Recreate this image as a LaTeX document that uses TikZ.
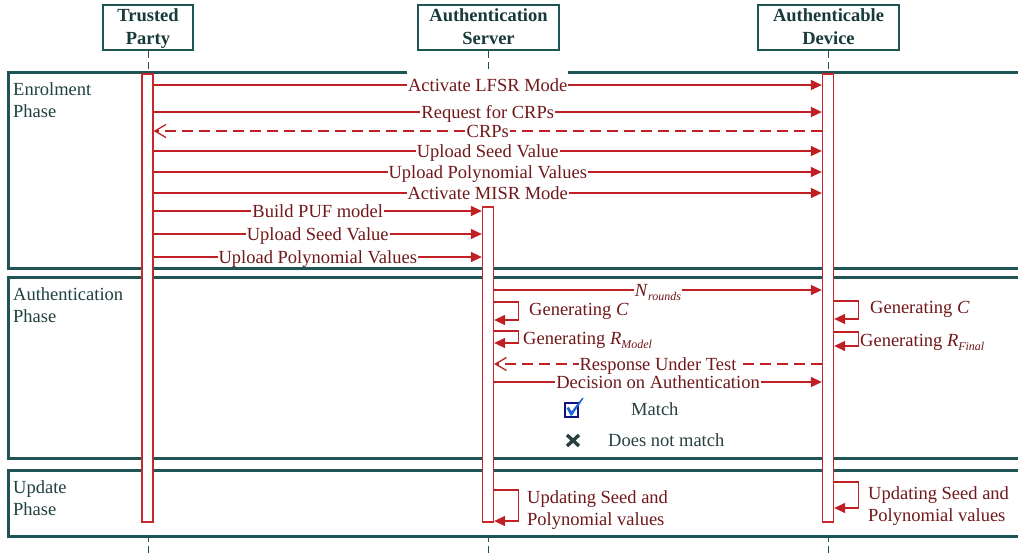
\documentclass[tikz,border=0pt]{standalone}
\usepackage{fontspec}
\setmainfont{Liberation Serif}
\usetikzlibrary{arrows.meta}

\definecolor{frameteal}{RGB}{31,84,84}
\definecolor{hdrtext}{RGB}{25,58,58}
\definecolor{phasetext}{RGB}{30,64,64}
\definecolor{msgred}{RGB}{192,32,36}
\definecolor{lbltext}{RGB}{112,24,26}
\definecolor{barred}{RGB}{200,40,44}
\definecolor{navyline}{RGB}{12,20,130}
\definecolor{tickblue}{RGB}{30,100,210}
\definecolor{slate}{RGB}{40,64,64}

\newcommand\basefont{\fontsize{18.5}{22}\selectfont}
\newcommand\subtext[1]{\raisebox{-4pt}{\fontsize{12}{12}\selectfont\textit{#1}}}

\begin{document}
\begin{tikzpicture}[x=1pt,y=-1pt,
  hdr/.style={draw=frameteal, line width=2.5, fill=white, minimum height=45,
    inner sep=0, align=center, font=\fontsize{18.5}{22.5}\selectfont\bfseries,
    text=hdrtext, text height=37, text depth=3.4},
  life/.style={draw=frameteal, line width=1, dash pattern=on 7 off 4},
  phasebox/.style={draw=frameteal, line width=3, fill=white},
  phaselbl/.style={anchor=base west, align=left, inner sep=0, font=\basefont, text=phasetext},
  bar/.style={draw=barred, fill=white, line width=1.3, minimum width=11, inner sep=0},
  msg/.style={draw=msgred, line width=1.3, -{Triangle[length=11,width=10]}},
  reply/.style={draw=msgred, line width=1.3, dash pattern=on 11 off 6,
    -{Straight Barb[length=11,width=13]}},
  lbl/.style={fill=white, text=lbltext, font=\basefont, inner xsep=1, inner ysep=1.5,
    text height=13, text depth=0},
  note/.style={anchor=base west, inner sep=0, text=lbltext, font=\basefont, align=left},
  legend/.style={anchor=base west, inner sep=0, text=slate, font=\basefont},
]
\useasboundingbox (0,0) rectangle (1018,555);
\clip (0,0) rectangle (1018,555);

% participants
\node[hdr, minimum width=90]  (tp) at (148,27.5)   {Trusted\\Party};
\node[hdr, minimum width=141] (sv) at (488.5,27.5) {Authentication\\Server};
\node[hdr, minimum width=141] (dv) at (828.5,27.5) {Authenticable\\Device};

% lifelines
\draw[life] (tp.south) -- (tp.south |- 0,555);
\draw[life] (sv.south) -- (sv.south |- 0,555);
\draw[life] (dv.south) -- (dv.south |- 0,555);

% phase frames (labels anchored at the baseline of their last line)
\draw[phasebox] (8.5,72)  rectangle (1025,268);
\draw[phasebox] (8.5,277) rectangle (1025,458);
\draw[phasebox] (8.5,470) rectangle (1025,536);
\node[phaselbl] (enrol) at (13,117) {Enrolment\\Phase};
\node[phaselbl] (authp) at (13,322) {Authentication\\Phase};
\node[phaselbl] (updp)  at (13,515) {Update\\Phase};

% activation bars
\node[bar, minimum height=448] (tpbar) at (147.5,298)   {};
\node[bar, minimum height=315] (svbar) at (488,364.5)   {};
\node[bar, minimum height=448] (dvbar) at (828,298)     {};

% enrolment messages
\draw[msg] (tpbar.east |- 0,85) -- node[lbl, text height=21, yshift=4]{Activate LFSR Mode} (dvbar.west |- 0,85);
\draw[msg] (tpbar.east |- 0,112) -- node[lbl]{Request for CRPs} (dvbar.west |- 0,112);
\draw[reply] (dvbar.west |- 0,131) -- node[lbl]{CRPs} (tpbar.east |- 0,131);
\draw[msg] (tpbar.east |- 0,151) -- node[lbl]{Upload Seed Value} (dvbar.west |- 0,151);
\draw[msg] (tpbar.east |- 0,172) -- node[lbl]{Upload Polynomial Values} (dvbar.west |- 0,172);
\draw[msg] (tpbar.east |- 0,193) -- node[lbl]{Activate MISR Mode} (dvbar.west |- 0,193);
\draw[msg] (tpbar.east |- 0,211) -- node[lbl]{Build PUF model} (svbar.west |- 0,211);
\draw[msg] (tpbar.east |- 0,234) -- node[lbl]{Upload Seed Value} (svbar.west |- 0,234);
\draw[msg] (tpbar.east |- 0,257) -- node[lbl]{Upload Polynomial Values} (svbar.west |- 0,257);

% authentication messages
\draw[msg] (svbar.east |- 0,290) -- node[lbl]{\textit{N}\subtext{rounds}} (dvbar.west |- 0,290);
\draw[msg] (svbar.east |- 0,302) -- ++(24,0) |- (svbar.east |- 0,320);
\node[note] (sgc) at (529,315) {Generating \textit{C}};
\draw[msg] (dvbar.east |- 0,301) -- ++(24,0) |- (dvbar.east |- 0,319);
\node[note] (dgc) at (870,313) {Generating \textit{C}};
\draw[msg] (svbar.east |- 0,331) -- ++(24,0) |- (svbar.east |- 0,343);
\node[note] (sgr) at (523,344) {Generating \textit{R}\subtext{Model}};
\draw[msg] (dvbar.east |- 0,332) -- ++(24,0) |- (dvbar.east |- 0,346);
\node[note] (dgr) at (860,346) {Generating \textit{R}\subtext{Final}};
\draw[reply] (dvbar.west |- 0,364) -- node[lbl]{Response Under Test} (svbar.east |- 0,364);
\draw[msg] (svbar.east |- 0,382) -- node[lbl]{Decision on Authentication} (dvbar.west |- 0,382);

% outcome legend: ticked box and cross
\draw[navyline, line width=1.8] (565,403) rectangle (578,417);
\fill[tickblue] (566.5,408) -- (569,407) -- (571.5,411.5) -- (582.5,397.5)
  -- (583.5,398.5) -- (572,415.5) -- (570.5,415.5) -- cycle;
\node[legend] (match) at (631,415) {Match};
\draw[slate, line width=3.4] (567,435) -- (579,446) (579,435) -- (567,446);
\node[legend] (nomatch) at (608,446) {Does not match};

% update messages
\draw[msg] (svbar.east |- 0,490) -- ++(24,0) |- (svbar.east |- 0,521);
\node[note] (supd) at (527,525) {Updating Seed and\\Polynomial values};
\draw[msg] (dvbar.east |- 0,482) -- ++(24,0) |- (dvbar.east |- 0,508);
\node[note] (dupd) at (868,521) {Updating Seed and\\Polynomial values};
\end{tikzpicture}
\end{document}
